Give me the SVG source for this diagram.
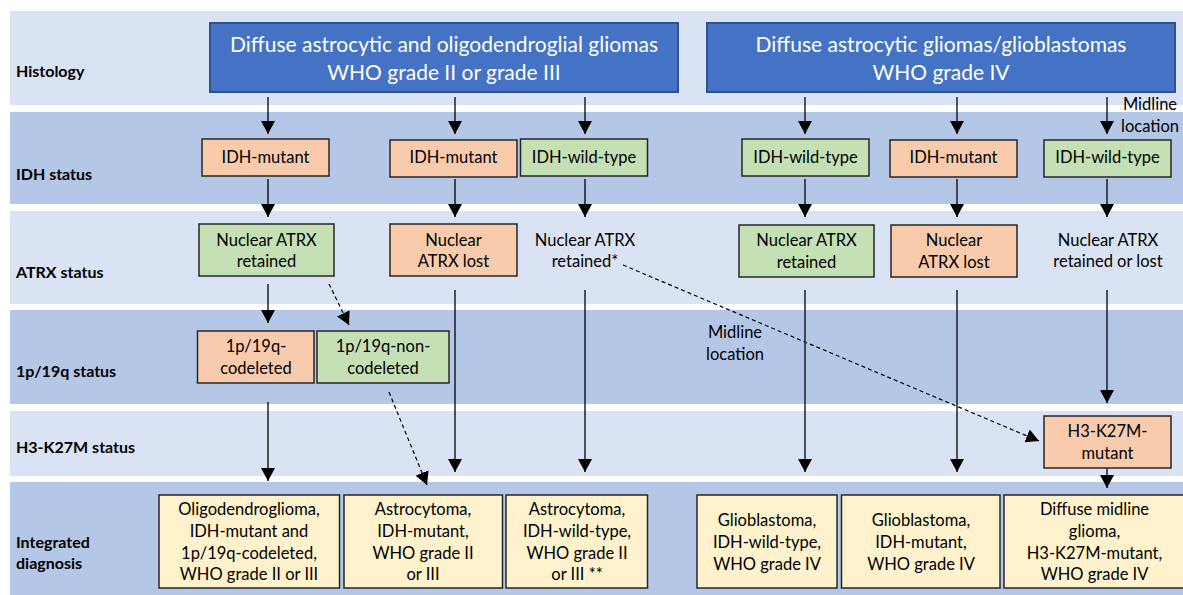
<svg xmlns="http://www.w3.org/2000/svg" width="1183" height="595" viewBox="0 0 1183 595">
<defs>
<style>
.bl{fill:#DAE3F3}.bd{fill:#B4C7E7}
.hb{fill:#4472C4;stroke:#2F528F;stroke-width:2}
.ht{font-family:Lato,"Liberation Sans",sans-serif;font-size:21px;fill:#fff;text-anchor:middle}
.lab{font-family:Lato,"Liberation Sans",sans-serif;font-size:16px;font-weight:bold;fill:#000}
.or{fill:#F8CBAD;stroke:#262626;stroke-width:1.5}
.gr{fill:#C5E0B4;stroke:#262626;stroke-width:1.5}
.ye{fill:#FFF2CC;stroke:#262626;stroke-width:1.5}
.t{font-family:Lato,"Liberation Sans",sans-serif;font-size:16.5px;fill:#000;text-anchor:middle}
.a{stroke:#000;stroke-width:1.3;fill:none;marker-end:url(#ah)}
.d{stroke:#000;stroke-width:1.2;fill:none;stroke-dasharray:4 3;marker-end:url(#ah)}
</style>
<marker id="ah" markerUnits="userSpaceOnUse" markerWidth="14" markerHeight="14" refX="13" refY="7" orient="auto" viewBox="0 0 14 14">
<path d="M0,0 L13,7 L0,14 z" fill="#000"/>
</marker>
</defs>
<rect width="1183" height="595" fill="#fff"/>
<g id="bands">
<rect class="bl" x="10" y="11" width="1173" height="94"/>
<rect class="bd" x="10" y="112" width="1173" height="92"/>
<rect class="bl" x="10" y="211" width="1173" height="93"/>
<rect class="bd" x="10" y="310" width="1173" height="94"/>
<rect class="bl" x="10" y="411" width="1173" height="65"/>
<rect class="bd" x="10" y="482" width="1173" height="113"/>
</g>
<g id="row-labels">
<text class="lab" x="16" y="77">Histology</text>
<text class="lab" x="16" y="180">IDH status</text>
<text class="lab" x="16" y="278">ATRX status</text>
<text class="lab" x="16" y="377">1p/19q status</text>
<text class="lab" x="16" y="453">H3-K27M status</text>
<text class="lab" x="16" y="548">Integrated</text>
<text class="lab" x="16" y="569">diagnosis</text>
</g>
<g id="connectors">
<line class="a" x1="268" y1="97" x2="268" y2="134"/>
<line class="a" x1="455" y1="97" x2="455" y2="134"/>
<line class="a" x1="585" y1="97" x2="585" y2="134"/>
<line class="a" x1="805" y1="97" x2="805" y2="134"/>
<line class="a" x1="957" y1="97" x2="957" y2="134"/>
<line class="a" x1="1107" y1="97" x2="1107" y2="134"/>
<line class="a" x1="268" y1="179" x2="268" y2="217"/>
<line class="a" x1="455" y1="179" x2="455" y2="217"/>
<line class="a" x1="585" y1="179" x2="585" y2="217"/>
<line class="a" x1="805" y1="179" x2="805" y2="217"/>
<line class="a" x1="957" y1="179" x2="957" y2="217"/>
<line class="a" x1="1107" y1="179" x2="1107" y2="217"/>
<line class="a" x1="268" y1="284" x2="268" y2="323"/>
<path class="d" d="M329,284 L349,325"/>
<line class="a" x1="455" y1="290" x2="455" y2="472"/>
<line class="a" x1="585" y1="290" x2="585" y2="472"/>
<line class="a" x1="805" y1="290" x2="805" y2="472"/>
<line class="a" x1="957" y1="290" x2="957" y2="472"/>
<line class="a" x1="1107" y1="290" x2="1107" y2="403"/>
<line class="a" x1="268" y1="402" x2="268" y2="481"/>
<path class="d" d="M389,392 L427,485"/>
<path class="d" d="M623,265 L1039,441"/>
<line class="a" x1="1107" y1="468" x2="1107" y2="488"/>
<text class="t" x="1150" y="110">Midline</text>
<text class="t" x="1150" y="132">location</text>
<text class="t" x="735" y="338">Midline</text>
<text class="t" x="735" y="360">location</text>
</g>
<g id="hist-1">
<rect class="hb" x="210" y="23" width="468" height="69"/>
<text class="ht" x="444" y="52">Diffuse astrocytic and oligodendroglial gliomas</text>
<text class="ht" x="444" y="80">WHO grade II or grade III</text>
</g>
<g id="hist-2">
<rect class="hb" x="707" y="23" width="468" height="69"/>
<text class="ht" x="941" y="52">Diffuse astrocytic gliomas/glioblastomas</text>
<text class="ht" x="941" y="80">WHO grade IV</text>
</g>
<g id="idh-1"><rect class="or" x="202" y="139" width="127" height="37"/><text class="t" x="265.5" y="163">IDH-mutant</text></g>
<g id="idh-2"><rect class="or" x="390" y="140" width="127" height="37"/><text class="t" x="453.5" y="163">IDH-mutant</text></g>
<g id="idh-3"><rect class="gr" x="520.5" y="139" width="127" height="37"/><text class="t" x="584" y="163">IDH-wild-type</text></g>
<g id="idh-4"><rect class="gr" x="742" y="139" width="127" height="37"/><text class="t" x="805.5" y="163">IDH-wild-type</text></g>
<g id="idh-5"><rect class="or" x="890" y="140" width="127" height="37"/><text class="t" x="953.5" y="163">IDH-mutant</text></g>
<g id="idh-6"><rect class="gr" x="1044" y="140" width="127" height="37"/><text class="t" x="1107.5" y="163">IDH-wild-type</text></g>
<g id="atrx-1"><rect class="gr" x="199" y="224" width="135" height="52"/><text class="t" x="266.5" y="245.5">Nuclear ATRX</text><text class="t" x="266.5" y="267">retained</text></g>
<g id="atrx-2"><rect class="or" x="390" y="224" width="127" height="52"/><text class="t" x="453.5" y="245.5">Nuclear</text><text class="t" x="453.5" y="267">ATRX lost</text></g>
<g id="atrx-3"><text class="t" x="585" y="245.5">Nuclear ATRX</text><text class="t" x="585" y="267">retained*</text></g>
<g id="atrx-4"><rect class="gr" x="739" y="225" width="135" height="52"/><text class="t" x="806.5" y="246">Nuclear ATRX</text><text class="t" x="806.5" y="268">retained</text></g>
<g id="atrx-5"><rect class="or" x="891" y="225" width="126" height="52"/><text class="t" x="954" y="246">Nuclear</text><text class="t" x="954" y="268">ATRX lost</text></g>
<g id="atrx-6"><text class="t" x="1108" y="245.5">Nuclear ATRX</text><text class="t" x="1108" y="267">retained or lost</text></g>
<g id="codel-1"><rect class="or" x="197.5" y="331" width="116.5" height="52"/><text class="t" x="256" y="352">1p/19q-</text><text class="t" x="256" y="374">codeleted</text></g>
<g id="codel-2"><rect class="gr" x="317" y="331" width="132" height="52"/><text class="t" x="383" y="352">1p/19q-non-</text><text class="t" x="383" y="374">codeleted</text></g>
<g id="h3"><rect class="or" x="1044" y="416" width="127" height="52"/><text class="t" x="1107.5" y="437">H3-K27M-</text><text class="t" x="1107.5" y="459">mutant</text></g>
<g id="dx-1"><rect class="ye" x="159" y="495" width="180.5" height="93"/><text class="t" x="249" y="515">Oligodendroglioma,</text><text class="t" x="249" y="537">IDH-mutant and</text><text class="t" x="249" y="559">1p/19q-codeleted,</text><text class="t" x="249" y="580">WHO grade II or III</text></g>
<g id="dx-2"><rect class="ye" x="344" y="495" width="158.5" height="93"/><text class="t" x="423" y="515">Astrocytoma,</text><text class="t" x="423" y="537">IDH-mutant,</text><text class="t" x="423" y="559">WHO grade II</text><text class="t" x="423" y="580">or III</text></g>
<g id="dx-3"><rect class="ye" x="506" y="495" width="141.5" height="93"/><text class="t" x="577" y="515">Astrocytoma,</text><text class="t" x="577" y="537">IDH-wild-type,</text><text class="t" x="577" y="559">WHO grade II</text><text class="t" x="577" y="580">or III **</text></g>
<g id="dx-4"><rect class="ye" x="697" y="495" width="140" height="93"/><text class="t" x="767" y="526">Glioblastoma,</text><text class="t" x="767" y="548">IDH-wild-type,</text><text class="t" x="767" y="570">WHO grade IV</text></g>
<g id="dx-5"><rect class="ye" x="841.5" y="495" width="158.5" height="93"/><text class="t" x="921" y="526">Glioblastoma,</text><text class="t" x="921" y="548">IDH-mutant,</text><text class="t" x="921" y="570">WHO grade IV</text></g>
<g id="dx-6"><rect class="ye" x="1004" y="495" width="190" height="93"/><text class="t" x="1094.5" y="515">Diffuse midline</text><text class="t" x="1094.5" y="537">glioma,</text><text class="t" x="1094.5" y="559">H3-K27M-mutant,</text><text class="t" x="1094.5" y="580">WHO grade IV</text></g>
</svg>
